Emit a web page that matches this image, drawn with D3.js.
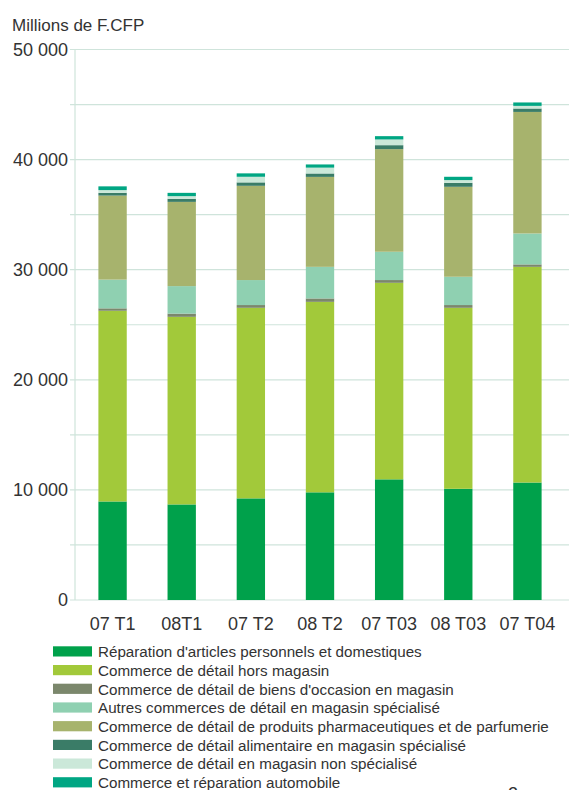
<!DOCTYPE html>
<html>
<head>
<meta charset="utf-8">
<script src="https://cdn.jsdelivr.net/npm/d3@7"></script>
<style>
  body { margin: 0; background: #fff; }
  text { font-family: "Liberation Sans", Arial, sans-serif; fill: #333; }
</style>
</head>
<body>
<div id="chart"></div>
<script>
var categories = ["07 T1", "08T1", "07 T2", "08 T2", "07 T03", "08 T03", "07 T04"];

var seriesNames = [
  "Réparation d'articles personnels et domestiques",
  "Commerce de détail hors magasin",
  "Commerce de détail de biens d'occasion en magasin",
  "Autres commerces de détail en magasin spécialisé",
  "Commerce de détail de produits pharmaceutiques et de parfumerie",
  "Commerce de détail alimentaire en magasin spécialisé",
  "Commerce de détail en magasin non spécialisé",
  "Commerce et réparation automobile"
];

// values, millions F.CFP, bottom to top
var reparation = [8950, 8680, 9230, 9780, 10960, 10100, 10670];
var horsMagasin = [17320, 17040, 17310, 17300, 17850, 16440, 19590];
var occasion = [220, 290, 250, 310, 250, 250, 220];
var autresSpecialise = [2610, 2500, 2270, 2870, 2570, 2570, 2810];
var pharma = [7630, 7650, 8560, 8170, 9320, 8170, 11040];
var alimentaire = [250, 280, 310, 310, 360, 360, 310];
var nonSpecialise = [250, 240, 510, 530, 520, 250, 240];
var automobile = [340, 300, 310, 290, 300, 300, 310];

var yTicks = [0, 10000, 20000, 30000, 40000, 50000];
var gridTicks = [0, 5000, 10000, 15000, 20000, 25000, 30000, 35000, 40000, 45000, 50000];

var colors = ["#00a14b", "#a2c93a", "#7b876c", "#8fd0b1", "#a7b36d", "#3a7c67", "#cbe8d9", "#00a683"];

var allSeries = [reparation, horsMagasin, occasion, autresSpecialise, pharma, alimentaire, nonSpecialise, automobile];

var width = 569;
var height = 790;

var svg = d3.select("#chart")
  .append("svg")
  .attr("width", width)
  .attr("height", height);

var rows = categories.map(function (c, i) {
  var r = { cat: c };
  allSeries.forEach(function (s, k) { r["s" + k] = s[i]; });
  return r;
});
var keys = allSeries.map(function (s, k) { return "s" + k; });

var stacked = d3.stack().keys(keys)(rows);

var x = d3.scaleBand()
  .domain(categories)
  .range([78, 562])
  .paddingInner(0.59)
  .paddingOuter(0.295);

var y = d3.scaleLinear()
  .domain([0, 50000])
  .range([600, 49.5]);

// title
svg.append("text")
  .attr("x", 12)
  .attr("y", 31)
  .style("font-size", "17px")
  .text("Millions de F.CFP");

// grid
svg.append("g")
  .selectAll("line")
  .data(gridTicks)
  .enter()
  .append("line")
  .attr("x1", 70)
  .attr("x2", width)
  .attr("y1", function (d) { return y(d); })
  .attr("y2", function (d) { return y(d); })
  .attr("stroke", "#cfe4db")
  .attr("stroke-width", 1.2);

svg.append("line")
  .attr("x1", 75)
  .attr("x2", 75)
  .attr("y1", y(50000))
  .attr("y2", y(0))
  .attr("stroke", "#cfe4db")
  .attr("stroke-width", 1.2);

svg.append("g")
  .selectAll("text")
  .data(yTicks)
  .enter()
  .append("text")
  .attr("x", 68)
  .attr("y", function (d) { return y(d); })
  .attr("dy", "0.36em")
  .attr("text-anchor", "end")
  .style("font-size", "18px")
  .text(function (d) { return d3.format(",")(d).replace(/,/g, " "); });

// bars
svg.append("g")
  .selectAll("g")
  .data(stacked)
  .enter()
  .append("g")
  .attr("fill", function (d, i) { return colors[i]; })
  .selectAll("rect")
  .data(function (d) { return d; })
  .enter()
  .append("rect")
  .attr("x", function (d) { return x(d.data.cat); })
  .attr("width", x.bandwidth())
  .attr("y", function (d) { return y(d[1]); })
  .attr("height", function (d) { return y(d[0]) - y(d[1]); });

// x labels
svg.append("g")
  .selectAll("text")
  .data(categories)
  .enter()
  .append("text")
  .attr("x", function (d) { return x(d) + x.bandwidth() / 2; })
  .attr("y", 630)
  .attr("text-anchor", "middle")
  .style("font-size", "18px")
  .text(function (d) { return d; });

// legend
var legend = svg.append("g")
  .selectAll("g")
  .data(seriesNames)
  .enter()
  .append("g")
  .attr("transform", function (d, i) { return "translate(0," + (646.3 + i * 18.7) + ")"; });

legend.append("rect")
  .attr("x", 53)
  .attr("width", 39)
  .attr("height", 10.2)
  .attr("fill", function (d, i) { return colors[i]; });

legend.append("text")
  .attr("x", 98)
  .attr("y", 10.8)
  .style("font-size", "15.2px")
  .text(function (d) { return d; });

// page number, cut off at the bottom
svg.append("text")
  .attr("x", 508)
  .attr("y", 800)
  .style("font-size", "18px")
  .text("2");
</script>
</body>
</html>
